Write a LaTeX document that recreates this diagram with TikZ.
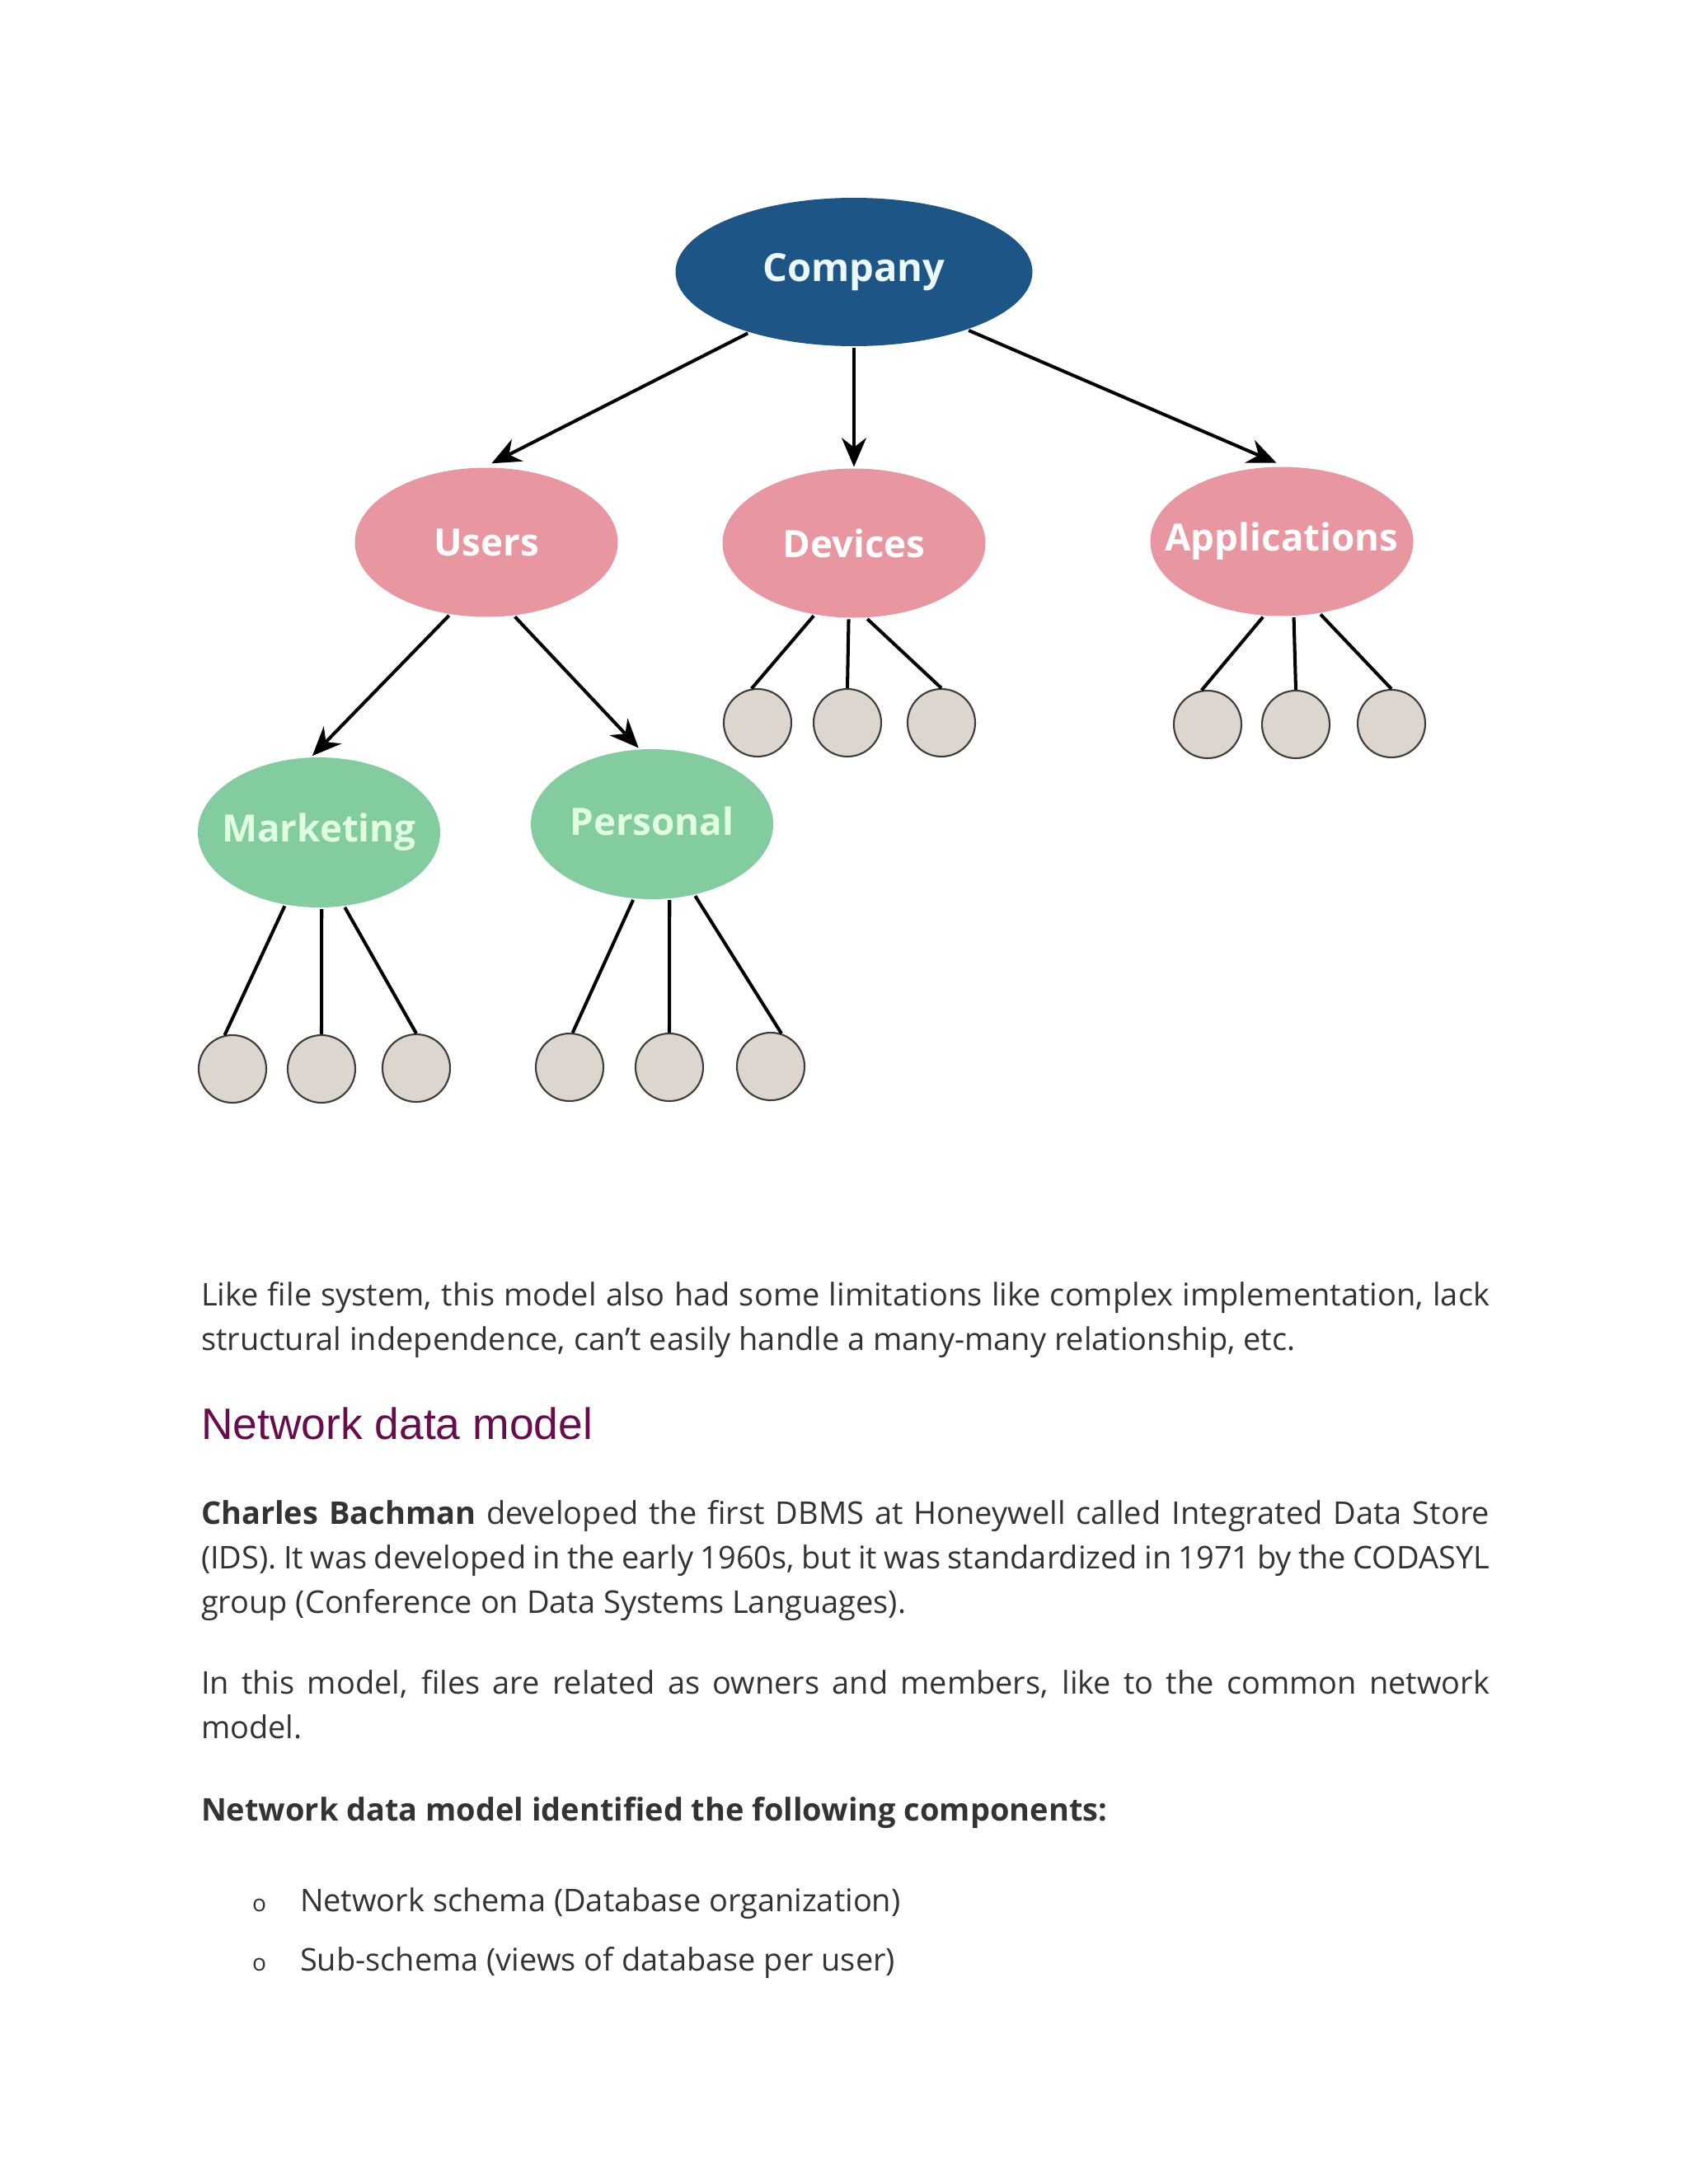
\documentclass[tikz,border=0pt]{standalone}
\usepackage{fontspec}
\setmainfont{Open Sans}
\newfontfamily\headfont{Liberation Sans}
\usetikzlibrary{arrows.meta}
\usetikzlibrary{shapes}

\definecolor{companyblue}{RGB}{30,85,135}
\definecolor{grouppink}{RGB}{232,150,160}
\definecolor{deptgreen}{RGB}{130,204,160}
\definecolor{leaffill}{RGB}{220,214,206}
\definecolor{leafline}{RGB}{60,60,60}
\definecolor{headpurple}{RGB}{105,12,77}
\definecolor{bodytext}{RGB}{51,51,51}

\tikzset{
  nodetext/.style={inner sep=0pt, font=\fontsize{13}{13}\selectfont\bfseries},
  company/.style={ellipse, fill=companyblue, minimum width=4.33cm, minimum height=1.8cm, inner sep=0pt},
  group/.style={ellipse, fill=grouppink, minimum width=3.19cm, minimum height=1.81cm, inner sep=0pt},
  dept/.style={ellipse, fill=deptgreen, minimum width=2.94cm, minimum height=1.82cm, inner sep=0pt},
  leaf/.style={circle, draw=leafline, fill=leaffill, line width=0.6pt, minimum size=0.82cm, inner sep=0pt},
  para/.style={anchor=base west, inner sep=0pt, text width=15.63cm, align=justify, text=bodytext, font=\fontsize{10.8}{15.4}\selectfont},
  plain/.style={anchor=base west, inner sep=0pt, text=bodytext, font=\fontsize{10.8}{15.4}\selectfont},
}

\begin{document}
\begin{tikzpicture}[>={Stealth[length=10pt,width=8.5pt]}, line width=1.15pt]
\useasboundingbox (0,0) rectangle (20.48,-26.50);

\node[name=company, company, label={[nodetext, text=white!92!cyan, font=\fontsize{13.4}{13.4}\selectfont\bfseries]center:Company}] at (10.36,-3.30) {};
\node[name=users, group, below of=company, node distance=3.28cm, xshift=-4.46cm, label={[nodetext, text=white]center:Users}]{};
\node[name=devices, group, below of=company, node distance=3.29cm, label={[nodetext, text=white]center:Devices}]{};
\node[name=apps, group, below of=company, node distance=3.27cm, xshift=5.19cm, label={[nodetext, text=white]center:Applications}]{};
\node[name=marketing, dept, below of=users, node distance=3.52cm, xshift=-2.03cm, label={[nodetext, text=white!88!green]center:Marketing}]{};
\node[name=personal, dept, below of=users, node distance=3.42cm, xshift=2.01cm, label={[nodetext, text=white!88!green, yshift=1pt]center:Personal}]{};

\node[name=dev_1, leaf, below of=devices, node distance=2.18cm, xshift=-1.17cm]{};
\node[name=dev_2, leaf, below of=devices, node distance=2.18cm, xshift=-0.08cm]{};
\node[name=dev_3, leaf, below of=devices, node distance=2.18cm, xshift=1.06cm]{};
\node[name=apps_1, leaf, below of=apps, node distance=2.22cm, xshift=-0.90cm]{};
\node[name=apps_2, leaf, below of=apps, node distance=2.22cm, xshift=0.17cm]{};
\node[name=apps_3, leaf, below of=apps, node distance=2.21cm, xshift=1.33cm]{};
\node[name=mkt_1, leaf, below of=marketing, node distance=2.87cm, xshift=-1.05cm]{};
\node[name=mkt_2, leaf, below of=marketing, node distance=2.87cm, xshift=0.03cm]{};
\node[name=mkt_3, leaf, below of=marketing, node distance=2.86cm, xshift=1.18cm]{};
\node[name=pers_1, leaf, below of=personal, node distance=2.95cm, xshift=-1.00cm]{};
\node[name=pers_2, leaf, below of=personal, node distance=2.95cm, xshift=0.21cm]{};
\node[name=pers_3, leaf, below of=personal, node distance=2.94cm, xshift=1.44cm]{};

\draw(company.210) edge[->, shorten >=2pt](users.north);
\draw(company.south) edge[->](devices.north);
\draw(company.333) edge[->, shorten >=2pt](apps.north);
\draw(users.243) edge[->](marketing.95);
\draw(users.291) edge[->](personal.100);

\draw(devices.241) edge(dev_1.100);
\draw(devices.266) edge(dev_2.north);
\draw(devices.280) edge(dev_3.north);
\draw(apps.256) edge(apps_1.100);
\draw(apps.279) edge(apps_2.north);
\draw(apps.298) edge(apps_3.north);
\draw(marketing.245) edge(mkt_1.103);
\draw(marketing.272) edge(mkt_2.north);
\draw(marketing.289) edge(mkt_3.north);
\draw(personal.256) edge(pers_1.85);
\draw(personal.283) edge(pers_2.north);
\draw(personal.301) edge(pers_3.72);

\node[name=limits, para] at (2.42,-15.84) {Like file system, this model also had some limitations like complex implementation, lack\linebreak structural independence, can't easily handle a many-many relationship, etc.};
\node[name=heading, anchor=base west, inner sep=0pt, text=headpurple, font=\headfont\fontsize{15.2}{15.2}\selectfont] at (2.42,-17.46) {Network data model};
\node[name=bachman, para] at (2.42,-18.49) {\textbf{Charles Bachman} developed the first DBMS at Honeywell called Integrated Data Store\linebreak (IDS). It was developed in the early 1960s, but it was standardized in 1971 by the CODASYL\linebreak group (Conference on Data Systems Languages).};
\node[name=owners, para] at (2.42,-20.55) {In this model, files are related as owners and members, like to the common network\linebreak model.};
\node[name=components, plain, font=\fontsize{10.8}{15.4}\selectfont\bfseries] at (2.42,-22.09) {Network data model identified the following components:};
\node[name=bullet_1, plain, font=\fontsize{8}{8}\selectfont] at (3.04,-23.19) {o};
\node[name=item_1, plain] at (3.62,-23.19) {Network schema (Database organization)};
\node[name=bullet_2, plain, font=\fontsize{8}{8}\selectfont] at (3.04,-23.91) {o};
\node[name=item_2, plain] at (3.62,-23.91) {Sub-schema (views of database per user)};
\end{tikzpicture}
\end{document}
